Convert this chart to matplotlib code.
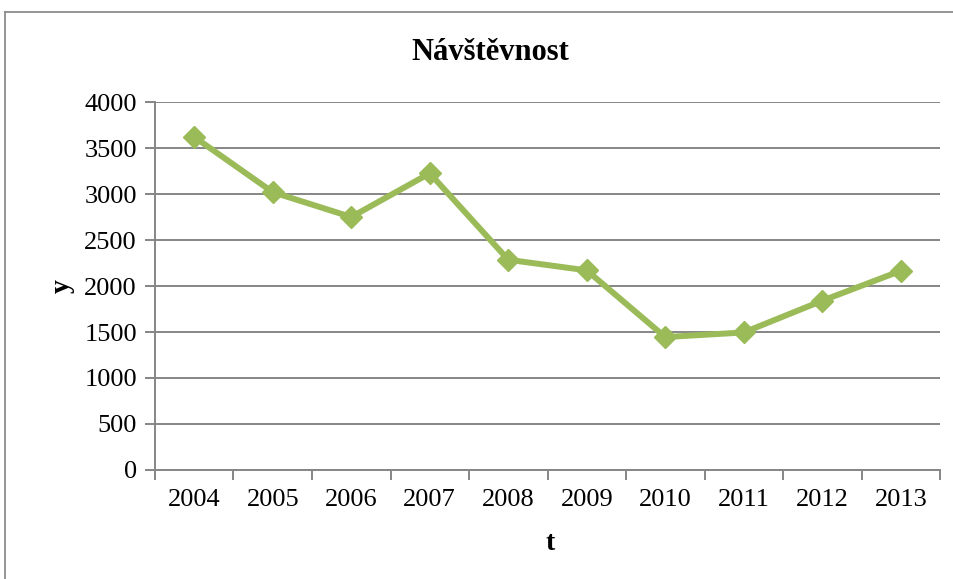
import matplotlib
matplotlib.use("Agg")
import matplotlib.pyplot as plt
from matplotlib.lines import Line2D
import numpy as np

years = ["2004", "2005", "2006", "2007", "2008", "2009", "2010", "2011", "2012", "2013"]
visits = [3620, 3020, 2750, 3225, 2285, 2170, 1445, 1495, 1840, 2165]
yticks = [0, 500, 1000, 1500, 2000, 2500, 3000, 3500, 4000]

plt.rcParams['font.family'] = ['Liberation Serif', 'DejaVu Serif']

fig = plt.figure(figsize=(9.54, 5.79), dpi=100)
ax = fig.add_axes([155/954, 1-470/579, (940-155)/954, (470-102)/579])

x = np.arange(len(years))
ax.plot(x, visits, color='#9BBB59', lw=4.3, marker='D', markersize=11.5,
        markerfacecolor='#9BBB59', markeredgecolor='#9BBB59', zorder=3)

ax.set_xlim(-0.5, len(years)-0.5)
ax.set_ylim(0, 4000)
ax.set_yticks(yticks)
ax.set_yticklabels([str(v) for v in yticks])
ax.set_xticks(x)
ax.set_xticklabels(years)
ax.set_xticks(np.arange(-0.5, len(years)), minor=True)
ax.tick_params(axis='x', which='major', length=0, pad=14, labelsize=19)
ax.tick_params(axis='x', which='minor', length=7, width=1.4, color='#868686', direction='out')
ax.tick_params(axis='y', length=7, width=1.4, color='#868686', direction='out', pad=6, labelsize=19)

ax.grid(axis='y', color='#868686', lw=1.4)
ax.set_axisbelow(True)
for s in ['top', 'right']:
    ax.spines[s].set_visible(False)
for s in ['left', 'bottom']:
    ax.spines[s].set_color('#868686')
    ax.spines[s].set_linewidth(1.4)

fig.text(490/954, 1-52/579, "Návštěvnost", ha='center', va='center', fontsize=22, fontweight='bold')
fig.text(62/954, 1-286/579, "y", ha='center', va='center', fontsize=20, fontweight='bold', rotation=90)
fig.text(550/954, 1-543/579, "t", ha='center', va='center', fontsize=20, fontweight='bold')

# outer chart frame (left and top edges visible)
fig.add_artist(Line2D([5/954, 5/954], [0, 1-12/579], transform=fig.transFigure, color='#8c8c8c', lw=1.3))
fig.add_artist(Line2D([5/954, 1], [1-12/579, 1-12/579], transform=fig.transFigure, color='#8c8c8c', lw=1.3))

fig.savefig("out.png", dpi=100)
